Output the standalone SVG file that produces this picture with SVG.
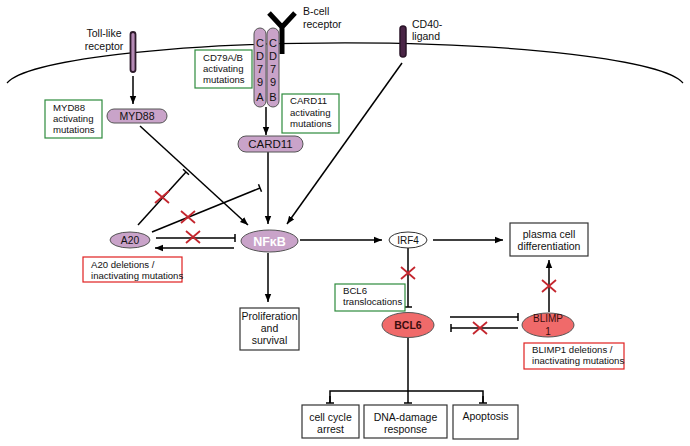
<svg xmlns="http://www.w3.org/2000/svg" width="690" height="446" viewBox="0 0 690 446">
<style>
text{font-family:"Liberation Sans",Arial,sans-serif;fill:#111;}
.t{font-size:10.5px;}
.m{font-size:9.6px;}
.ln{stroke:#000;stroke-width:1.5;fill:none;}
.gb{fill:#fff;stroke:#2e8b3c;stroke-width:1.2;}
.rb{fill:#fff;stroke:#e02020;stroke-width:1.2;}
.bb{fill:#fff;stroke:#333;stroke-width:1.2;}
.lav{fill:#c9a3c9;stroke:#555;stroke-width:1;}
.sal{fill:#f06a6a;stroke:#555;stroke-width:1;}
.x{stroke:#c4262e;stroke-width:1.8;fill:none;}
</style>
<defs>
<marker id="arr" viewBox="0 0 10 10" refX="10" refY="5" markerWidth="8" markerHeight="8" orient="auto" markerUnits="userSpaceOnUse"><path d="M0,1 L10,5 L0,9 z" fill="#000"/></marker>
<marker id="tee" viewBox="-5 -5 10 10" refX="0" refY="0" markerWidth="10" markerHeight="10" orient="auto" markerUnits="userSpaceOnUse"><path d="M0,-4 V4" stroke="#000" stroke-width="1.5"/></marker>
<g id="xm"><path class="x" d="M-7,-6 L7,6 M-7,6 L7,-6"/></g>
</defs>

<!-- membrane -->
<path d="M7,83 A340,45 0 0 1 683,83" fill="none" stroke="#000" stroke-width="1.2"/>

<g id="connectors">
<line class="ln" x1="133" y1="76" x2="133" y2="104" marker-end="url(#arr)"/>
<line class="ln" x1="266" y1="107" x2="266" y2="135" marker-end="url(#arr)"/>
<line class="ln" x1="268" y1="152" x2="268" y2="224" marker-end="url(#arr)"/>
<line class="ln" x1="140" y1="126" x2="248" y2="225" marker-end="url(#arr)"/>
<line class="ln" x1="402" y1="63" x2="287" y2="224" marker-end="url(#arr)"/>
<line class="ln" x1="138" y1="225" x2="186" y2="172" marker-end="url(#tee)"/>
<line class="ln" x1="152" y1="232" x2="260" y2="188" marker-end="url(#tee)"/>
<line class="ln" x1="156" y1="238" x2="235" y2="238" marker-end="url(#tee)"/>
<line class="ln" x1="234" y1="248" x2="155" y2="248" marker-end="url(#arr)"/>
<line class="ln" x1="300" y1="240" x2="382" y2="240" marker-end="url(#arr)"/>
<line class="ln" x1="433" y1="240" x2="503" y2="240" marker-end="url(#arr)"/>
<line class="ln" x1="408" y1="248" x2="408" y2="307" marker-end="url(#tee)"/>
<line class="ln" x1="268" y1="253" x2="268" y2="302" marker-end="url(#arr)"/>
<line class="ln" x1="450" y1="317" x2="518" y2="317" marker-end="url(#tee)"/>
<line class="ln" x1="518" y1="328" x2="451" y2="328" marker-end="url(#tee)"/>
<line class="ln" x1="549" y1="312" x2="549" y2="260" marker-end="url(#arr)"/>
<line class="ln" x1="408" y1="338" x2="408" y2="403" marker-end="url(#tee)"/>
<path class="ln" d="M330,403 V391 H483 V403"/>
<line class="ln" x1="330" y1="396" x2="330" y2="403" marker-end="url(#tee)"/>
<line class="ln" x1="483" y1="396" x2="483" y2="403" marker-end="url(#tee)"/>
<use href="#xm" x="162" y="197"/>
<use href="#xm" x="188" y="217"/>
<use href="#xm" x="193" y="237"/>
<use href="#xm" x="408" y="273"/>
<use href="#xm" x="480" y="328"/>
<use href="#xm" x="549" y="286"/>
</g>

<g id="toll">
<rect x="130.5" y="32" width="5" height="40" rx="2.5" fill="#b58ab5" stroke="#2d1a2b" stroke-width="1.8"/>
<text class="t" x="104" y="37" text-anchor="middle">Toll-like</text>
<text class="t" x="104" y="50" text-anchor="middle">receptor</text>
</g>

<g id="bcr">
<path d="M269,13 L282,27 L295,13 M282,27 V54" fill="none" stroke="#000" stroke-width="5"/>
<text class="t" x="303" y="15">B-cell</text>
<text class="t" x="303" y="28">receptor</text>
</g>

<g id="cd79">
<rect class="lav" x="254" y="28" width="12" height="79" rx="6"/>
<rect class="lav" x="267" y="28" width="12" height="79" rx="6"/>
<g font-size="11" text-anchor="middle">
<text x="260" y="47">C</text><text x="260" y="60">D</text><text x="260" y="73">7</text><text x="260" y="86">9</text><text x="260" y="101">A</text>
<text x="273" y="47">C</text><text x="273" y="60">D</text><text x="273" y="73">7</text><text x="273" y="86">9</text><text x="273" y="101">B</text>
</g>
</g>

<g id="cd40">
<rect x="400" y="26" width="6" height="31" rx="3" fill="#4a2546" stroke="#2a1428" stroke-width="1.5"/>
<text class="t" x="412" y="28">CD40-</text>
<text class="t" x="412" y="40">ligand</text>
</g>

<g id="myd88mut">
<rect class="gb" x="45" y="100" width="57" height="38"/>
<text class="m" x="53" y="111">MYD88</text>
<text class="m" x="53" y="122">activating</text>
<text class="m" x="53" y="133">mutations</text>
</g>

<g id="cd79mut">
<rect class="gb" x="195" y="50" width="57" height="38"/>
<text class="m" x="203" y="61">CD79A/B</text>
<text class="m" x="203" y="72">activating</text>
<text class="m" x="203" y="83">mutations</text>
</g>

<g id="card11mut">
<rect class="gb" x="282" y="94" width="57" height="39"/>
<text class="m" x="290" y="104">CARD11</text>
<text class="m" x="290" y="115.5">activating</text>
<text class="m" x="290" y="127">mutations</text>
</g>

<g id="myd88">
<rect class="lav" x="107" y="109" width="60" height="14" rx="7"/>
<text x="137" y="120" font-size="10.5" text-anchor="middle">MYD88</text>
</g>

<g id="card11">
<rect class="lav" x="238" y="136" width="65" height="16" rx="8"/>
<text x="270.5" y="148.3" font-size="11.5" text-anchor="middle">CARD11</text>
</g>

<g id="nfkb">
<ellipse class="lav" cx="269.5" cy="241" rx="28.5" ry="11"/>
<text x="269.5" y="245.5" font-size="12.5" font-weight="bold" text-anchor="middle" style="fill:#fff">NFκB</text>
</g>

<g id="a20">
<ellipse class="lav" cx="130" cy="240" rx="20" ry="8"/>
<text x="130" y="243.7" font-size="10.3" text-anchor="middle">A20</text>
</g>

<g id="a20mut">
<rect class="rb" x="83" y="257" width="99" height="25"/>
<text class="m" x="91" y="267.5">A20 deletions /</text>
<text class="m" x="91" y="279">inactivating mutations</text>
</g>

<g id="irf4">
<ellipse cx="408" cy="240" rx="19" ry="8" fill="#fff" stroke="#333" stroke-width="1"/>
<text x="408" y="243.6" font-size="10" text-anchor="middle">IRF4</text>
</g>

<g id="plasma">
<rect class="bb" x="510" y="223" width="78" height="33"/>
<text class="t" x="549" y="237.5" text-anchor="middle">plasma cell</text>
<text class="t" x="549" y="249.5" text-anchor="middle">differentiation</text>
</g>

<g id="bcl6mut">
<rect class="gb" x="335" y="284" width="70" height="27"/>
<text class="m" x="343" y="293.5">BCL6</text>
<text class="m" x="343" y="304.5">translocations</text>
</g>

<g id="bcl6">
<ellipse class="sal" cx="408" cy="325" rx="26" ry="12.5"/>
<text x="408" y="329" font-size="10.5" font-weight="bold" text-anchor="middle" style="fill:#3a0d0d">BCL6</text>
</g>

<g id="blimp1">
<ellipse class="sal" cx="548" cy="325" rx="26" ry="12"/>
<text x="548" y="321.5" font-size="10" text-anchor="middle" style="fill:#3a0d0d">BLIMP</text>
<text x="548" y="334.5" font-size="10" text-anchor="middle" style="fill:#3a0d0d">1</text>
</g>

<g id="blimpmut">
<rect class="rb" x="524" y="343" width="100" height="26"/>
<text class="m" x="532" y="352.5">BLIMP1 deletions /</text>
<text class="m" x="532" y="364">inactivating mutations</text>
</g>

<g id="prolif">
<rect class="bb" x="240" y="308" width="59" height="42"/>
<text class="t" x="269.5" y="319.5" text-anchor="middle">Proliferation</text>
<text class="t" x="269.5" y="331.5" text-anchor="middle">and</text>
<text class="t" x="269.5" y="344" text-anchor="middle">survival</text>
</g>

<g id="cellcycle">
<rect class="bb" x="302" y="405" width="57" height="33"/>
<text class="t" x="330.5" y="420.5" text-anchor="middle">cell cycle</text>
<text class="t" x="330.5" y="432.5" text-anchor="middle">arrest</text>
</g>

<g id="dna">
<rect class="bb" x="364" y="405" width="83" height="33"/>
<text class="t" x="405.5" y="420.5" text-anchor="middle">DNA-damage</text>
<text class="t" x="405.5" y="432.5" text-anchor="middle">response</text>
</g>

<g id="apoptosis">
<rect class="bb" x="453" y="405" width="65" height="34"/>
<text class="t" x="485.5" y="419.5" text-anchor="middle">Apoptosis</text>
</g>
</svg>
